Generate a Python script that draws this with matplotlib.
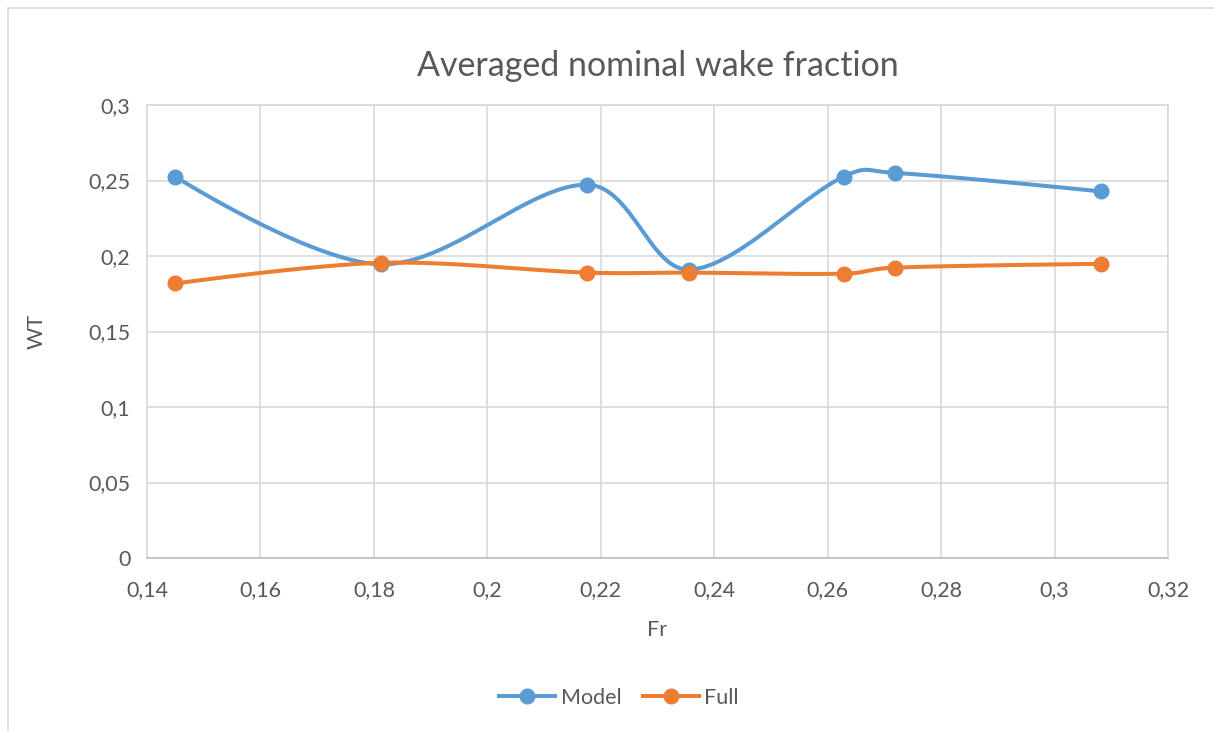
import numpy as np
import matplotlib
matplotlib.use("Agg")
import matplotlib.pyplot as plt
from matplotlib.lines import Line2D
from matplotlib.patches import Rectangle

# Froude numbers and averaged nominal wake fraction
fr = [0.145, 0.1813, 0.2176, 0.2356, 0.2628, 0.2719, 0.3081]
wt_model = [0.2525, 0.1945, 0.2472, 0.1910, 0.2525, 0.2550, 0.2428]
wt_full = [0.1818, 0.1955, 0.1890, 0.1890, 0.1883, 0.1923, 0.1948]

xticks = [0.14, 0.16, 0.18, 0.2, 0.22, 0.24, 0.26, 0.28, 0.3, 0.32]
yticks = [0, 0.05, 0.1, 0.15, 0.2, 0.25, 0.3]

blue = "#5B9BD5"
orange = "#ED7D31"
txt = "#595959"
grid = "#D9D9D9"

plt.rcParams['font.family'] = ['Lato', 'DejaVu Sans']

# pixels per data unit, so the curve is smoothed in screen space
sx_scale = 1021 / 0.18
sy_scale = 453 / 0.3


def smooth(xs, ys, n=50):
    # bezier through every point; tangent is a mix of plain catmull-rom
    # and a segment-length weighted one
    p = np.column_stack([np.array(xs) * sx_scale, np.array(ys) * sy_scale])
    m = len(p)
    tang = np.zeros_like(p)
    for i in range(1, m - 1):
        d0 = np.linalg.norm(p[i] - p[i - 1])
        d1 = np.linalg.norm(p[i + 1] - p[i])
        tang[i] = (p[i + 1] - p[i - 1]) / (d0 + d1)
    out = []
    for i in range(m - 1):
        p1, p2 = p[i], p[i + 1]
        d = np.linalg.norm(p2 - p1)
        if i > 0:
            c1 = p1 + 0.5 * (tang[i] * d / 3 + (p2 - p[i - 1]) / 6)
        else:
            c1 = p1
        if i + 1 < m - 1:
            c2 = p2 - 0.5 * (tang[i + 1] * d / 3 + (p[i + 2] - p1) / 6)
        else:
            c2 = p2
        t = np.linspace(0, 1, n)[:, None]
        seg = ((1 - t) ** 3) * p1 + 3 * ((1 - t) ** 2) * t * c1 + 3 * (1 - t) * t ** 2 * c2 + t ** 3 * p2
        out.append(seg)
    s = np.vstack(out)
    return s[:, 0] / sx_scale, s[:, 1] / sy_scale


def fmt(v):
    return ("%g" % v).replace(".", ",")


fig = plt.figure(figsize=(12.14, 7.31), dpi=100)
fig.patches.append(Rectangle((8 / 1214, -0.1), 1.2, 1 - 8 / 731 + 0.1, transform=fig.transFigure,
                             fill=False, edgecolor="#D9D9D9", linewidth=1.2))
ax = fig.add_axes([147 / 1214, 1 - 558 / 731, (1168 - 147) / 1214, (558 - 105) / 731])

for ys, col in [(wt_model, blue), (wt_full, orange)]:
    cx, cy = smooth(fr, ys)
    ax.plot(cx, cy, color=col, linewidth=2.9, solid_capstyle="round", zorder=3)
    ax.plot(fr, ys, linestyle="none", marker="o", markersize=10.5, color=col, zorder=4)

ax.set_xlim(0.14, 0.32)
ax.set_ylim(0, 0.3)
ax.set_xticks(xticks)
ax.set_yticks(yticks)
ax.set_xticklabels([fmt(v) for v in xticks])
ax.set_yticklabels([fmt(v) for v in yticks])
ax.grid(True, color=grid, linewidth=1.2)
ax.set_axisbelow(True)
for side in ["top", "right", "bottom", "left"]:
    ax.spines[side].set_color(grid)
    ax.spines[side].set_linewidth(1.2)
ax.spines["bottom"].set_color("#BFBFBF")
ax.tick_params(length=0, labelsize=15.5, colors=txt)
ax.tick_params(axis="x", pad=16)
ax.tick_params(axis="y", pad=12)

ax.set_xlabel("Fr", fontsize=15.5, color=txt, labelpad=14)
ax.set_ylabel("WT", fontsize=15.5, color=txt, labelpad=30)
ax.set_title("Averaged nominal wake fraction", fontsize=24.5, color=txt, pad=21)

handles = [Line2D([], [], color=blue, linewidth=2.9, marker="o", markersize=10.5),
           Line2D([], [], color=orange, linewidth=2.9, marker="o", markersize=10.5)]
fig.legend(handles, ["Model", "Full"], loc="center", bbox_to_anchor=(0.5 + 12 / 1214, 1 - 698 / 731),
           ncol=2, frameon=False, fontsize=15.5, labelcolor=txt, handlelength=2.6,
           columnspacing=1.0, handletextpad=0.25)

fig.savefig("out.png", dpi=100)
